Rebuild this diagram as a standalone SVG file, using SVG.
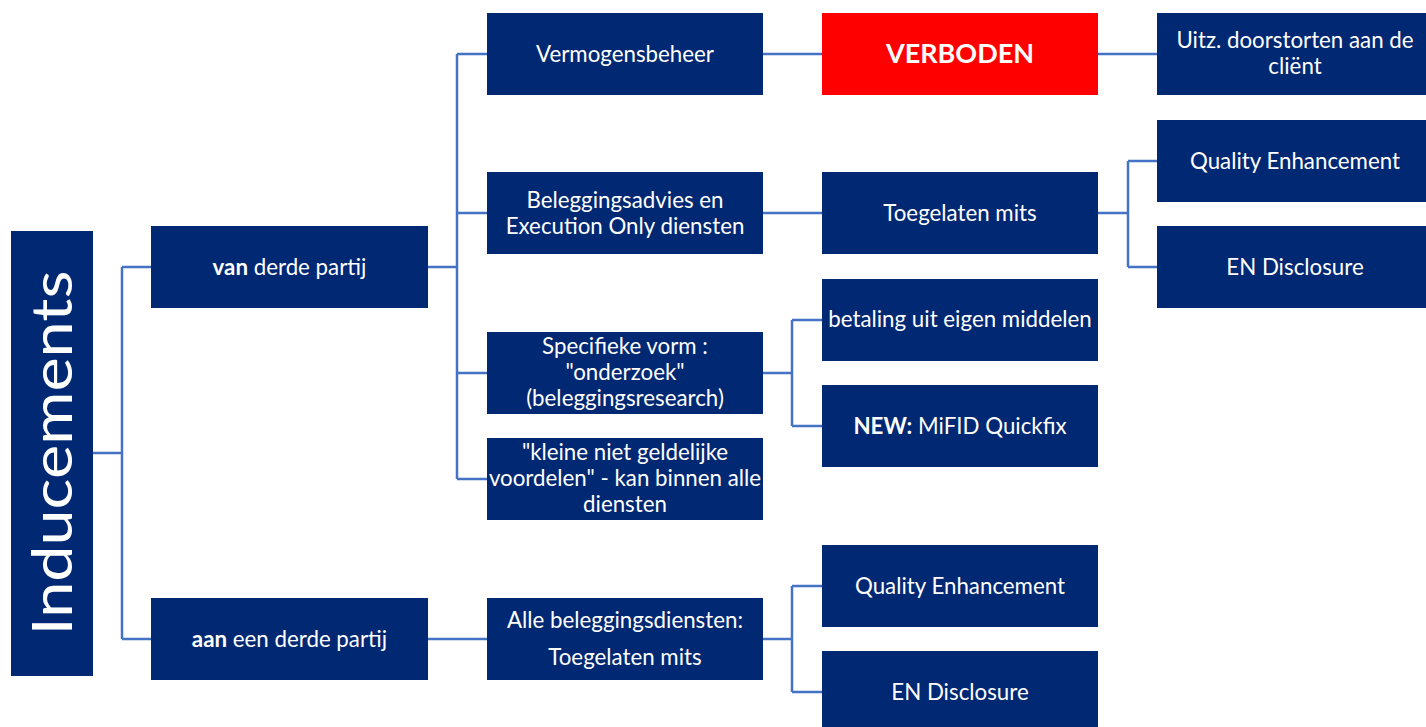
<svg xmlns="http://www.w3.org/2000/svg" width="1426" height="727" viewBox="0 0 1426 727">
<style>
.box{fill:#012873;}
.red{fill:#FF0000;}
.t{font-family:Lato,"Open Sans","Liberation Sans",sans-serif;font-size:22.3px;fill:#ffffff;text-anchor:middle;}
.b{font-weight:bold;}
.c{fill:none;stroke:#4472C4;stroke-width:2.5;}
</style>
<rect width="1426" height="727" fill="#ffffff"/>
<g id="connectors">
<path class="c" d="M93 453H122M122 267V639M122 267H151M122 639H151"/>
<path class="c" d="M428 267H457M457 54V479M457 54H487M457 213H487M457 373H487M457 479H487"/>
<path class="c" d="M763 54H822M1098 54H1157"/>
<path class="c" d="M763 213H822"/>
<path class="c" d="M1098 213H1128M1128 161V267M1128 161H1157M1128 267H1157"/>
<path class="c" d="M763 373H792M792 320V426M792 320H822M792 426H822"/>
<path class="c" d="M428 639H487"/>
<path class="c" d="M763 639H792M792 586V692M792 586H822M792 692H822"/>
</g>
<g id="inducements">
<rect class="box" x="11" y="231" width="82" height="445"/>
<text class="t" transform="translate(72 453) rotate(-90)" style="font-size:56px" textLength="365" lengthAdjust="spacingAndGlyphs">Inducements</text>
</g>
<g id="van">
<rect class="box" x="151" y="226" width="277" height="82"/>
<text class="t" x="289.5" y="275"><tspan class="b">van</tspan> derde partij</text>
</g>
<g id="aan">
<rect class="box" x="151" y="598" width="277" height="82"/>
<text class="t" x="289.5" y="647"><tspan class="b">aan</tspan> een derde partij</text>
</g>
<g id="vermogensbeheer">
<rect class="box" x="487" y="13" width="276" height="82"/>
<text class="t" x="625" y="62">Vermogensbeheer</text>
</g>
<g id="beleggingsadvies">
<rect class="box" x="487" y="172" width="276" height="82"/>
<text class="t" x="625" y="208">Beleggingsadvies en</text>
<text class="t" x="625" y="234">Execution Only diensten</text>
</g>
<g id="specifieke">
<rect class="box" x="487" y="332" width="276" height="82"/>
<text class="t" x="625" y="354">Specifieke vorm :</text>
<text class="t" x="625" y="380">"onderzoek"</text>
<text class="t" x="625" y="406">(beleggingsresearch)</text>
</g>
<g id="kleine">
<rect class="box" x="487" y="438" width="276" height="82"/>
<text class="t" x="625" y="460">"kleine niet geldelijke</text>
<text class="t" x="625" y="486">voordelen" - kan binnen alle</text>
<text class="t" x="625" y="512">diensten</text>
</g>
<g id="alle">
<rect class="box" x="487" y="598" width="276" height="82"/>
<text class="t" x="625" y="628">Alle beleggingsdiensten:</text>
<text class="t" x="625" y="665">Toegelaten mits</text>
</g>
<g id="verboden">
<rect class="red" x="822" y="13" width="276" height="82"/>
<text class="t b" x="960" y="63" style="font-size:27px">VERBODEN</text>
</g>
<g id="toegelaten">
<rect class="box" x="822" y="172" width="276" height="82"/>
<text class="t" x="960" y="221">Toegelaten mits</text>
</g>
<g id="betaling">
<rect class="box" x="822" y="279" width="276" height="82"/>
<text class="t" x="960" y="327">betaling uit eigen middelen</text>
</g>
<g id="new">
<rect class="box" x="822" y="385" width="276" height="82"/>
<text class="t" x="960" y="434"><tspan class="b">NEW:</tspan> MiFID Quickfix</text>
</g>
<g id="quality2">
<rect class="box" x="822" y="545" width="276" height="82"/>
<text class="t" x="960" y="594">Quality Enhancement</text>
</g>
<g id="disclosure2">
<rect class="box" x="822" y="651" width="276" height="82"/>
<text class="t" x="960" y="700">EN Disclosure</text>
</g>
<g id="uitz">
<rect class="box" x="1157" y="13" width="276" height="82"/>
<text class="t" x="1295" y="48">Uitz. doorstorten aan de</text>
<text class="t" x="1295" y="74">cliënt</text>
</g>
<g id="quality1">
<rect class="box" x="1157" y="120" width="276" height="82"/>
<text class="t" x="1295" y="169">Quality Enhancement</text>
</g>
<g id="disclosure1">
<rect class="box" x="1157" y="226" width="276" height="82"/>
<text class="t" x="1295" y="275">EN Disclosure</text>
</g>
</svg>
